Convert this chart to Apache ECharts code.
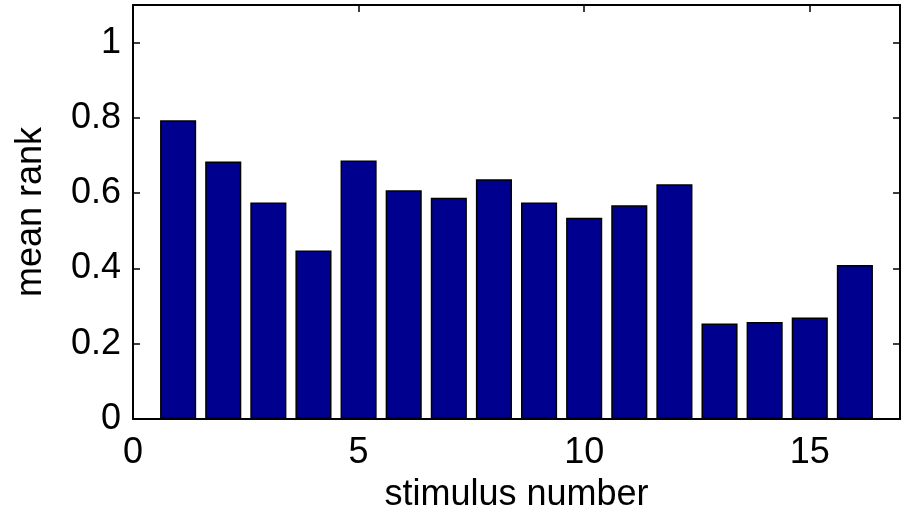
<!DOCTYPE html>
<html>
<head>
<meta charset="utf-8">
<script src="https://cdn.jsdelivr.net/npm/echarts@6/dist/echarts.min.js"></script>
<style>html,body{margin:0;padding:0;background:#fff}#c{width:913px;height:518px}</style>
</head>
<body>
<div id="c"></div>
<script>
const stimuli = [1,2,3,4,5,6,7,8,9,10,11,12,13,14,15,16];
const meanRank = [0.794,0.684,0.575,0.448,0.687,0.608,0.588,0.637,0.575,0.535,0.568,0.624,0.254,0.258,0.270,0.409];
const xTicks = [0,5,10,15];
const yTicks = [0,0.2,0.4,0.6,0.8,1];

const FONT = '"Liberation Sans", Arial, sans-serif';
const FS = 36;
const chart = echarts.init(document.getElementById('c'), null, {renderer:'canvas'});
const grid = {left:133, right:13, top:5, bottom:97};
const plotW = 913 - grid.left - grid.right;
const xMax = 17, yMax = 1.1;
const barW = plotW / xMax * 0.8;

function fmtX(v){ return xTicks.indexOf(Math.round(v)) >= 0 && Math.abs(v-Math.round(v))<1e-6 ? String(Math.round(v)) : ''; }
function fmtY(v){ const r = Math.round(v*10)/10; return yTicks.some(t=>Math.abs(t-v)<1e-6) ? String(r) : ''; }

const lineStyle = {color:'#000', width:2};
chart.setOption({
  animation:false,
  backgroundColor:'#fff',
  grid: grid,
  xAxis:[
    {type:'value', min:0, max:xMax, interval:5, position:'bottom',
     name:'stimulus number', nameLocation:'middle', nameGap:58,
     nameTextStyle:{fontFamily:FONT, fontSize:FS, color:'#000'},
     axisLine:{show:true, onZero:false, lineStyle:lineStyle},
     axisTick:{show:true, inside:true, length:7, lineStyle:{color:'#000',width:1.5}},
     axisLabel:{show:true, fontFamily:FONT, fontSize:FS, color:'#000', margin:16, formatter:fmtX, showMaxLabel:false},
     splitLine:{show:false}},
    {type:'value', min:0, max:xMax, interval:5, position:'top',
     axisLine:{show:true, onZero:false, lineStyle:lineStyle},
     axisTick:{show:true, inside:true, length:7, lineStyle:{color:'#000',width:1.5}},
     axisLabel:{show:false}, splitLine:{show:false}}
  ],
  yAxis:[
    {type:'value', min:0, max:yMax, interval:0.2, position:'left',
     name:'mean rank', nameLocation:'middle', nameGap:84,
     nameTextStyle:{fontFamily:FONT, fontSize:FS, color:'#000'},
     axisLine:{show:true, onZero:false, lineStyle:lineStyle},
     axisTick:{show:true, inside:true, length:7, lineStyle:{color:'#000',width:1.5}},
     axisLabel:{show:true, fontFamily:FONT, fontSize:FS, color:'#000', margin:12, formatter:fmtY, showMaxLabel:false},
     splitLine:{show:false}},
    {type:'value', min:0, max:yMax, interval:0.2, position:'right',
     axisLine:{show:true, onZero:false, lineStyle:lineStyle},
     axisTick:{show:true, inside:true, length:7, lineStyle:{color:'#000',width:1.5}},
     axisLabel:{show:false}, splitLine:{show:false}}
  ],
  series:[{
    type:'bar', xAxisIndex:0, yAxisIndex:0,
    barWidth: barW,
    data: stimuli.map((s,i)=>[s, meanRank[i]]),
    itemStyle:{color:'#00008F', borderColor:'#000', borderWidth:1.5}
  }]
});
</script>
</body>
</html>
